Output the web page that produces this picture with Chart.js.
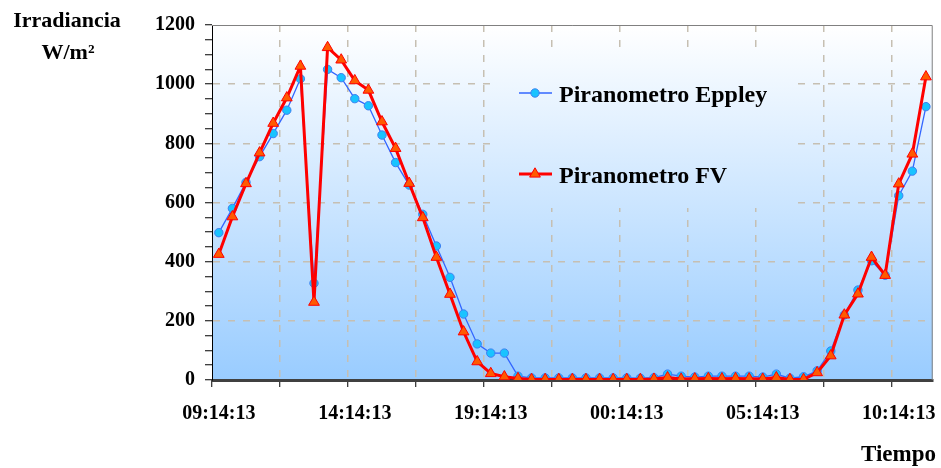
<!DOCTYPE html>
<html><head><meta charset="utf-8">
<script src="https://cdn.jsdelivr.net/npm/chart.js@4"></script>
<style>html,body{margin:0;padding:0;background:#fff;}#wrap{width:941px;height:468px;position:relative;}</style>
</head><body><div id="wrap"><canvas id="c" width="941" height="468"></canvas></div>
<script>
const categories = ["09:14:13","09:44:13","10:14:13","10:44:13","11:14:13","11:44:13","12:14:13","12:44:13","13:14:13","13:44:13",
"14:14:13","14:44:13","15:14:13","15:44:13","16:14:13","16:44:13","17:14:13","17:44:13","18:14:13","18:44:13",
"19:14:13","19:44:13","20:14:13","20:44:13","21:14:13","21:44:13","22:14:13","22:44:13","23:14:13","23:44:13",
"00:14:13","00:44:13","01:14:13","01:44:13","02:14:13","02:44:13","03:14:13","03:44:13","04:14:13","04:44:13",
"05:14:13","05:44:13","06:14:13","06:44:13","07:14:13","07:44:13","08:14:13","08:44:13","09:14:13","09:44:13",
"10:14:13","10:44:13","11:14:13"];
const eppley = [498,580,668,755,833,912,1018,327,1050,1022,
951,927,828,735,659,560,453,347,223,122,
91,91,13,7,7,7,7,7,7,7,
7,6,8,20,13,10,13,13,13,13,
10,20,6,11,31,98,220,304,403,354,
623,706,924];
const fv = [425,552,664,768,868,954,1061,263,1124,1082,
1012,980,873,783,665,549,415,290,163,62,
22,11,5,2,2,2,2,2,2,2,
2,2,3,8,3,4,5,4,5,4,
3,8,2,2,25,82,220,291,415,354,
663,764,1025];
const seriesNames = ["Piranometro Eppley","Piranometro FV"];
const yMin = 0, yMax = 1200, yMajor = 200, yMinor = 50;
const xLabelEvery = 10, xGridEvery = 5;
const yTitleLines = ["Irradiancia","W/m²"];
const xTitle = "Tiempo";

const FONT = "'Liberation Serif','Times New Roman',serif";
const GRID = '#c6bfb2';

function bgGradient(ctx, a){
  const g = ctx.createLinearGradient(0, a.top, 0, a.bottom);
  g.addColorStop(0, '#ffffff');
  g.addColorStop(1, '#99ccff');
  return g;
}

const decor = {
  id: 'decor',
  beforeDraw(chart){
    const {ctx, chartArea:a} = chart;
    ctx.save();
    ctx.fillStyle = '#ffffff';
    ctx.fillRect(0,0,chart.width,chart.height);
    ctx.fillStyle = bgGradient(ctx, a);
    ctx.fillRect(a.left, a.top, a.right-a.left, a.bottom-a.top);
    ctx.restore();
  },
  beforeDatasetsDraw(chart){
    const {ctx, chartArea:a} = chart;
    ctx.save();
    // legend box (same fill as plot, hides grid lines)
    ctx.fillStyle = bgGradient(ctx, a);
    ctx.fillRect(493, 48, 304, 160);
    // top/right plot border
    ctx.strokeStyle = '#808080';
    ctx.lineWidth = 1;
    ctx.beginPath();
    ctx.moveTo(a.left, a.top+0.5);
    ctx.lineTo(a.right-0.5, a.top+0.5);
    ctx.lineTo(a.right-0.5, a.bottom);
    ctx.stroke();
    ctx.restore();
  },
  afterDraw(chart){
    const {ctx} = chart;
    ctx.save();
    // legend
    const rows = [{y:93, base:101.5},{y:174, base:182.5}];
    chart.data.datasets.forEach((ds, i) => {
      const r = rows[i];
      ctx.strokeStyle = ds.borderColor;
      ctx.lineWidth = ds.borderWidth;
      ctx.beginPath();
      ctx.moveTo(519, r.y); ctx.lineTo(552, r.y); ctx.stroke();
      ctx.fillStyle = ds.pointBackgroundColor;
      ctx.strokeStyle = ds.pointBorderColor;
      ctx.lineWidth = ds.pointBorderWidth;
      Chart.helpers.drawPoint(ctx, {pointStyle: ds.pointStyle, radius: ds.pointRadius, borderWidth: ds.pointBorderWidth, rotation: 0}, 535, r.y);
      ctx.fillStyle = '#000';
      ctx.font = "bold 24px " + FONT;
      ctx.textAlign = 'left';
      ctx.textBaseline = 'alphabetic';
      ctx.fillText(ds.label, 559, r.base);
    });
    // axis titles
    ctx.fillStyle = '#000';
    ctx.font = "bold 22px " + FONT;
    ctx.textAlign = 'center';
    ctx.textBaseline = 'middle';
    ctx.fillText(yTitleLines[0], 67, 21);
    ctx.fillText(yTitleLines[1], 68, 53);
    ctx.font = "bold 23px " + FONT;
    ctx.textAlign = 'right';
    ctx.fillText(xTitle, 936, 455);
    ctx.restore();
  }
};

new Chart(document.getElementById('c'), {
  type: 'line',
  data: {
    labels: categories,
    datasets: [
      { label: seriesNames[0], data: eppley, borderColor: '#3366ff', borderWidth: 1.3,
        pointStyle: 'circle', pointRadius: 4.2, pointBackgroundColor: '#19c3ff',
        pointBorderColor: '#3d80f0', pointBorderWidth: 1, tension: 0, order: 1 },
      { label: seriesNames[1], data: fv, borderColor: '#ff0000', borderWidth: 3,
        pointStyle: 'triangle', pointRadius: 6.2, pointBackgroundColor: '#ff5a00',
        pointBorderColor: '#ff0000', pointBorderWidth: 1, tension: 0, order: 0 }
    ]
  },
  options: {
    responsive: false, animation: false, devicePixelRatio: 1,
    layout: { padding: { top: 25, right: 3, left: 0, bottom: 0 } },
    plugins: { legend: { display: false }, tooltip: { enabled: false } },
    scales: {
      x: {
        type: 'category', offset: true,
        afterFit(s){ s.height = 88; },
        ticks: {
          autoSkip: false, maxRotation: 0, minRotation: 0, padding: 15, color: '#000',
          font: { family: FONT, size: 20, weight: 'bold' },
          callback(v, i){ return i % xLabelEvery === 0 ? this.getLabelForValue(v) : ''; }
        },
        grid: {
          offset: true, lineWidth: 1.5,
          color: (c) => (c.index % xGridEvery === 0 && c.index > 0) ? GRID : 'rgba(0,0,0,0)',
          tickColor: (c) => (c.index % xGridEvery === 0) ? '#000' : 'rgba(0,0,0,0)',
          tickWidth: 1,
          tickLength: 7, tickBorderDash: [100, 0]
        },
        border: { color: '#404040', width: 3, dash: [7, 8] }
      },
      y: {
        min: yMin, max: yMax,
        afterFit(s){ s.width = 212; },
        ticks: {
          stepSize: yMinor, autoSkip: false, padding: 10, color: '#000',
          font: { family: FONT, size: 20, weight: 'bold' },
          callback: (v) => (v % yMajor === 0) ? v : ''
        },
        grid: {
          lineWidth: 1.5,
          color: (c) => (c.tick && c.tick.value % yMajor === 0 && c.tick.value > yMin && c.tick.value < yMax) ? GRID : 'rgba(0,0,0,0)',
          tickColor: '#000', tickWidth: 1, tickLength: 7, tickBorderDash: [100, 0]
        },
        border: { color: '#000', width: 1, dash: [7, 8] }
      }
    }
  },
  plugins: [decor]
});
</script>
</body></html>
